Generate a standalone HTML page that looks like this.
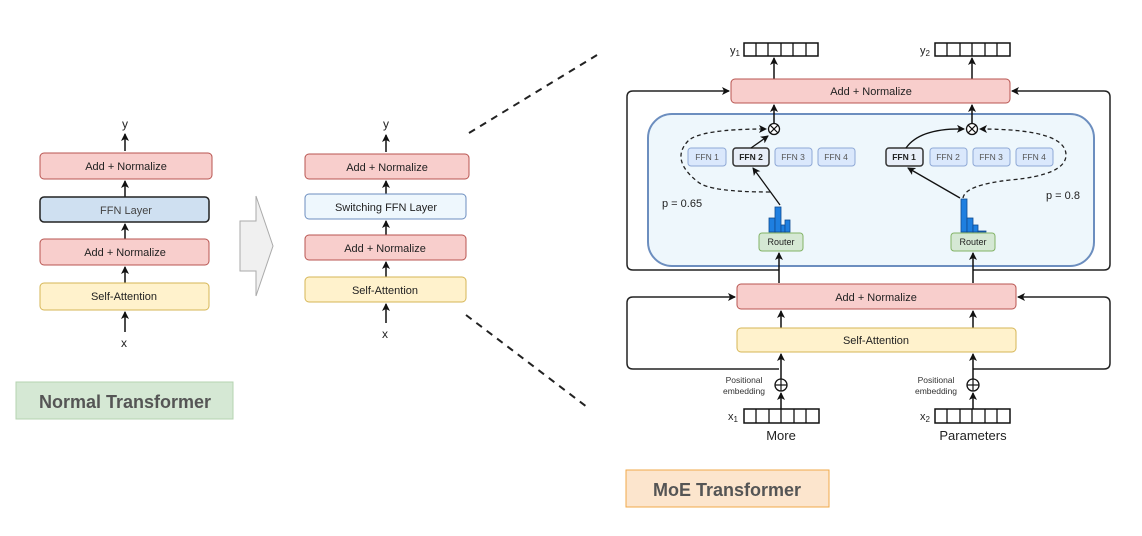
<!DOCTYPE html>
<html><head><meta charset="utf-8"><style>
html,body{margin:0;padding:0;background:#fff;}
svg{display:block;font-family:"Liberation Sans",sans-serif;}
</style></head><body>
<svg width="1142" height="536" viewBox="0 0 1142 536" xmlns="http://www.w3.org/2000/svg">
<defs>
<marker id="a" markerWidth="8" markerHeight="8" refX="7" refY="4" orient="auto" markerUnits="userSpaceOnUse"><path d="M0,0 L8,4 L0,8 L2,4 z" fill="#111"/></marker>
</defs>
<rect width="1142" height="536" fill="#fff"/>

<g font-size="11" fill="#222" text-anchor="middle">
<text x="125" y="128" font-size="12">y</text>
<line x1="125" y1="151" x2="125" y2="134" stroke="#111" stroke-width="1.5" marker-end="url(#a)"/>
<rect x="40" y="153" width="172" height="26" rx="4" fill="#f8cecc" stroke="#b85450"/>
<text x="126" y="170">Add + Normalize</text>
<line x1="125" y1="197" x2="125" y2="181" stroke="#111" stroke-width="1.5" marker-end="url(#a)"/>
<rect x="40" y="197" width="169" height="25" rx="4" fill="#cfe0f1" stroke="#222" stroke-width="1.5"/>
<text x="126" y="214" fill="#444">FFN Layer</text>
<line x1="125" y1="239" x2="125" y2="224" stroke="#111" stroke-width="1.5" marker-end="url(#a)"/>
<rect x="40" y="239" width="169" height="26" rx="4" fill="#f8cecc" stroke="#b85450"/>
<text x="125" y="256">Add + Normalize</text>
<line x1="125" y1="283" x2="125" y2="267" stroke="#111" stroke-width="1.5" marker-end="url(#a)"/>
<rect x="40" y="283" width="169" height="27" rx="4" fill="#fff2cc" stroke="#d6b656"/>
<text x="124" y="300">Self-Attention</text>
<line x1="125" y1="332" x2="125" y2="312" stroke="#111" stroke-width="1.5" marker-end="url(#a)"/>
<text x="124" y="347" font-size="12">x</text>
</g>
<rect x="16" y="382" width="217" height="37" fill="#d5e8d4" stroke="#b5d3b0"/>
<text x="125" y="408" font-size="18" font-weight="bold" fill="#555" text-anchor="middle">Normal Transformer</text>

<polygon points="240,221 256,221 256,196 273,246 256,296 256,271 240,271" fill="#f0f0f0" stroke="#aaa"/>

<g font-size="11" fill="#222" text-anchor="middle">
<text x="386" y="128" font-size="12">y</text>
<line x1="386" y1="152" x2="386" y2="135" stroke="#111" stroke-width="1.5" marker-end="url(#a)"/>
<rect x="305" y="154" width="164" height="25" rx="4" fill="#f8cecc" stroke="#b85450"/>
<text x="387" y="171">Add + Normalize</text>
<line x1="386" y1="194" x2="386" y2="181" stroke="#111" stroke-width="1.5" marker-end="url(#a)"/>
<rect x="305" y="194" width="161" height="25" rx="4" fill="#eef7fd" stroke="#6c8ebf"/>
<text x="386" y="211">Switching FFN Layer</text>
<line x1="386" y1="235" x2="386" y2="221" stroke="#111" stroke-width="1.5" marker-end="url(#a)"/>
<rect x="305" y="235" width="161" height="25" rx="4" fill="#f8cecc" stroke="#b85450"/>
<text x="385" y="252">Add + Normalize</text>
<line x1="386" y1="277" x2="386" y2="262" stroke="#111" stroke-width="1.5" marker-end="url(#a)"/>
<rect x="305" y="277" width="161" height="25" rx="4" fill="#fff2cc" stroke="#d6b656"/>
<text x="385" y="294">Self-Attention</text>
<line x1="386" y1="323" x2="386" y2="304" stroke="#111" stroke-width="1.5" marker-end="url(#a)"/>
<text x="385" y="338" font-size="12">x</text>
</g>

<line x1="469" y1="133" x2="597" y2="55" stroke="#222" stroke-width="2" stroke-dasharray="7,6"/>
<line x1="466" y1="315" x2="587" y2="407" stroke="#222" stroke-width="2" stroke-dasharray="7,6"/>

<g>
<path d="M779,270 L633,270 Q627,270 627,264 L627,97 Q627,91 633,91 L729,91" fill="none" stroke="#222" stroke-width="1.5" marker-end="url(#a)"/>
<path d="M973,270 L1104,270 Q1110,270 1110,264 L1110,97 Q1110,91 1104,91 L1012,91" fill="none" stroke="#222" stroke-width="1.5" marker-end="url(#a)"/>
<path d="M779,369 L633,369 Q627,369 627,363 L627,303 Q627,297 633,297 L735,297" fill="none" stroke="#222" stroke-width="1.5" marker-end="url(#a)"/>
<path d="M973,369 L1104,369 Q1110,369 1110,363 L1110,303 Q1110,297 1104,297 L1018,297" fill="none" stroke="#222" stroke-width="1.5" marker-end="url(#a)"/>

<rect x="648" y="114" width="446" height="152" rx="24" fill="#eef7fc" stroke="#6c8ebf" stroke-width="2"/>

<text x="730" y="54" font-size="11" fill="#222">y<tspan font-size="8" dy="2">1</tspan></text>
<text x="920" y="54" font-size="11" fill="#222">y<tspan font-size="8" dy="2">2</tspan></text>
<g fill="#fff" stroke="#111" stroke-width="1.5">
<rect x="744" y="43" width="74" height="13"/>
<rect x="935" y="43" width="75" height="13"/>
</g>
<g stroke="#111" stroke-width="1.3">
<line x1="756" y1="43" x2="756" y2="56"/><line x1="768" y1="43" x2="768" y2="56"/><line x1="781" y1="43" x2="781" y2="56"/><line x1="793" y1="43" x2="793" y2="56"/><line x1="806" y1="43" x2="806" y2="56"/>
<line x1="947" y1="43" x2="947" y2="56"/><line x1="960" y1="43" x2="960" y2="56"/><line x1="972" y1="43" x2="972" y2="56"/><line x1="985" y1="43" x2="985" y2="56"/><line x1="997" y1="43" x2="997" y2="56"/>
</g>
<line x1="774" y1="79" x2="774" y2="58" stroke="#111" stroke-width="1.5" marker-end="url(#a)"/>
<line x1="972" y1="79" x2="972" y2="58" stroke="#111" stroke-width="1.5" marker-end="url(#a)"/>

<rect x="731" y="79" width="279" height="24" rx="4" fill="#f8cecc" stroke="#b85450"/>
<text x="871" y="95" font-size="11" fill="#222" text-anchor="middle">Add + Normalize</text>

<line x1="774" y1="123" x2="774" y2="105" stroke="#111" stroke-width="1.5" marker-end="url(#a)"/>
<line x1="972" y1="123" x2="972" y2="105" stroke="#111" stroke-width="1.5" marker-end="url(#a)"/>

<g fill="#fff" stroke="#111" stroke-width="1.3">
<circle cx="774" cy="129" r="5.5"/><circle cx="972" cy="129" r="5.5"/>
</g>
<g stroke="#111" stroke-width="1.2">
<line x1="770" y1="125" x2="778" y2="133"/><line x1="778" y1="125" x2="770" y2="133"/>
<line x1="968" y1="125" x2="976" y2="133"/><line x1="976" y1="125" x2="968" y2="133"/>
</g>

<g font-size="8.5" text-anchor="middle">
<rect x="688" y="148" width="38" height="18" rx="3" fill="#dae8fc" stroke="#8fa9d6"/><text x="707" y="160" fill="#555">FFN 1</text>
<rect x="733" y="148" width="36" height="18" rx="3" fill="#e8eef8" stroke="#333" stroke-width="1.5"/><text x="751" y="160" fill="#222" font-weight="bold">FFN 2</text>
<rect x="775" y="148" width="37" height="18" rx="3" fill="#dae8fc" stroke="#8fa9d6"/><text x="793" y="160" fill="#555">FFN 3</text>
<rect x="818" y="148" width="37" height="18" rx="3" fill="#dae8fc" stroke="#8fa9d6"/><text x="836" y="160" fill="#555">FFN 4</text>
<rect x="886" y="148" width="37" height="18" rx="3" fill="#e8eef8" stroke="#333" stroke-width="1.5"/><text x="904" y="160" fill="#222" font-weight="bold">FFN 1</text>
<rect x="930" y="148" width="37" height="18" rx="3" fill="#dae8fc" stroke="#8fa9d6"/><text x="948" y="160" fill="#555">FFN 2</text>
<rect x="973" y="148" width="37" height="18" rx="3" fill="#dae8fc" stroke="#8fa9d6"/><text x="991" y="160" fill="#555">FFN 3</text>
<rect x="1016" y="148" width="37" height="18" rx="3" fill="#dae8fc" stroke="#8fa9d6"/><text x="1034" y="160" fill="#555">FFN 4</text>
</g>

<line x1="751" y1="148" x2="768" y2="136" stroke="#111" stroke-width="1.3" marker-end="url(#a)"/>
<line x1="780" y1="205" x2="753" y2="168" stroke="#111" stroke-width="1.3" marker-end="url(#a)"/>
<path d="M906,148 Q920,128 964,129" fill="none" stroke="#111" stroke-width="1.3" marker-end="url(#a)"/>
<line x1="960" y1="198" x2="908" y2="168" stroke="#111" stroke-width="1.3" marker-end="url(#a)"/>
<path d="M770,192 Q710,192 698,182 Q670,160 688,141 Q700,129 766,129" fill="none" stroke="#222" stroke-width="1.3" stroke-dasharray="4,3" marker-end="url(#a)"/>
<path d="M963,198 Q965,185 1010,180 Q1066,175 1066,155 Q1066,129 980,129" fill="none" stroke="#222" stroke-width="1.3" stroke-dasharray="4,3" marker-end="url(#a)"/>
<text x="662" y="207" font-size="11" fill="#222">p = 0.65</text>
<text x="1046" y="199" font-size="11" fill="#222">p = 0.8</text>

<g fill="#1e7fe0" stroke="#104a90" stroke-width="0.8">
<rect x="769" y="218" width="6" height="14"/><rect x="775" y="207" width="6" height="25"/><rect x="781" y="225" width="4" height="7"/><rect x="785" y="220" width="5" height="12"/>
<rect x="961" y="199" width="6" height="33"/><rect x="967" y="218" width="6" height="14"/><rect x="973" y="225" width="5" height="7"/><rect x="978" y="231" width="8" height="1"/>
</g>
<g font-size="9" fill="#222" text-anchor="middle">
<rect x="759" y="233" width="44" height="18" rx="3" fill="#d5e8d4" stroke="#82b366"/><text x="781" y="245">Router</text>
<rect x="951" y="233" width="44" height="18" rx="3" fill="#d5e8d4" stroke="#82b366"/><text x="973" y="245">Router</text>
</g>
<line x1="779" y1="283" x2="779" y2="253" stroke="#111" stroke-width="1.5" marker-end="url(#a)"/>
<line x1="973" y1="283" x2="973" y2="253" stroke="#111" stroke-width="1.5" marker-end="url(#a)"/>

<rect x="737" y="284" width="279" height="25" rx="4" fill="#f8cecc" stroke="#b85450"/>
<text x="876" y="301" font-size="11" fill="#222" text-anchor="middle">Add + Normalize</text>
<line x1="781" y1="328" x2="781" y2="311" stroke="#111" stroke-width="1.5" marker-end="url(#a)"/>
<line x1="973" y1="328" x2="973" y2="311" stroke="#111" stroke-width="1.5" marker-end="url(#a)"/>
<rect x="737" y="328" width="279" height="24" rx="4" fill="#fff2cc" stroke="#d6b656"/>
<text x="876" y="344" font-size="11" fill="#222" text-anchor="middle">Self-Attention</text>
<line x1="781" y1="379" x2="781" y2="354" stroke="#111" stroke-width="1.5" marker-end="url(#a)"/>
<line x1="973" y1="379" x2="973" y2="354" stroke="#111" stroke-width="1.5" marker-end="url(#a)"/>

<g font-size="8.5" fill="#333" text-anchor="middle">
<text x="744" y="383">Positional</text><text x="744" y="394">embedding</text>
<text x="936" y="383">Positional</text><text x="936" y="394">embedding</text>
</g>
<g fill="#fff" stroke="#111" stroke-width="1.3">
<circle cx="781" cy="385" r="6"/><circle cx="973" cy="385" r="6"/>
</g>
<g stroke="#111" stroke-width="1.2">
<line x1="775" y1="385" x2="787" y2="385"/><line x1="781" y1="379" x2="781" y2="391"/>
<line x1="967" y1="385" x2="979" y2="385"/><line x1="973" y1="379" x2="973" y2="391"/>
</g>
<line x1="781" y1="409" x2="781" y2="393" stroke="#111" stroke-width="1.5" marker-end="url(#a)"/>
<line x1="973" y1="409" x2="973" y2="393" stroke="#111" stroke-width="1.5" marker-end="url(#a)"/>

<g fill="#fff" stroke="#111" stroke-width="1.5">
<rect x="744" y="409" width="75" height="14"/><rect x="935" y="409" width="75" height="14"/>
</g>
<g stroke="#111" stroke-width="1.3">
<line x1="756" y1="409" x2="756" y2="423"/><line x1="769" y1="409" x2="769" y2="423"/><line x1="781" y1="409" x2="781" y2="423"/><line x1="794" y1="409" x2="794" y2="423"/><line x1="806" y1="409" x2="806" y2="423"/>
<line x1="947" y1="409" x2="947" y2="423"/><line x1="960" y1="409" x2="960" y2="423"/><line x1="972" y1="409" x2="972" y2="423"/><line x1="985" y1="409" x2="985" y2="423"/><line x1="997" y1="409" x2="997" y2="423"/>
</g>
<text x="728" y="420" font-size="11" fill="#222">x<tspan font-size="8" dy="2">1</tspan></text>
<text x="920" y="420" font-size="11" fill="#222">x<tspan font-size="8" dy="2">2</tspan></text>
<text x="781" y="440" font-size="13" fill="#222" text-anchor="middle">More</text>
<text x="973" y="440" font-size="13" fill="#222" text-anchor="middle">Parameters</text>
</g>

<rect x="626" y="470" width="203" height="37" fill="#fce5cd" stroke="#f0a94a"/>
<text x="727" y="496" font-size="18" font-weight="bold" fill="#555" text-anchor="middle">MoE Transformer</text>
</svg>
</body></html>
